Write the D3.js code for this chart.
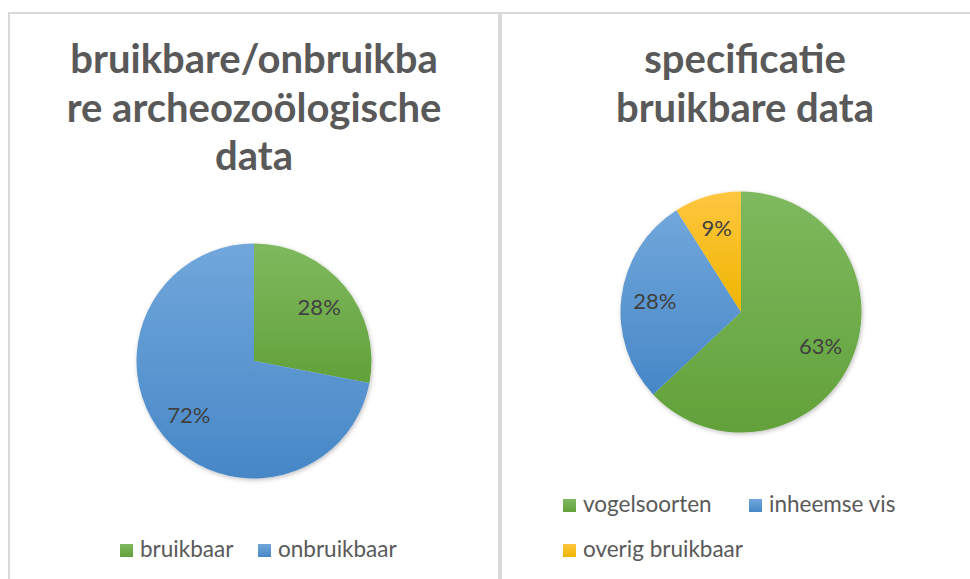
<!DOCTYPE html>
<meta charset="utf-8">
<script src="https://d3js.org/d3.v7.min.js"></script>
<style>
  body { margin: 0; background: #fff; }
  text { font-family: 'Lato', 'Open Sans', sans-serif; }
</style>
<body>
<div id="my_dataviz"></div>
<script>

// data
var leftTitle = ["bruikbare/onbruikba", "re archeozoölogische", "data"];
var leftLabels = ["bruikbaar", "onbruikbaar"];
var leftValues = [28, 72];

var rightTitle = ["specificatie", "bruikbare data"];
var rightLabels = ["vogelsoorten", "inheemse vis", "overig bruikbaar"];
var rightValues = [63, 28, 9];

// fill gradients (top -> bottom) per series colour
var palette = [
  ["#7fb95f", "#62a13a"],   // green
  ["#71a7db", "#4787c7"],   // blue
  ["#ffc641", "#efb500"]    // yellow
];

var W = 970, H = 579;

var svg = d3.select("#my_dataviz")
  .append("svg")
    .attr("width", W)
    .attr("height", H);

var defs = svg.append("defs");

palette.forEach(function(p, i) {
  var g = defs.append("linearGradient")
      .attr("id", "grad" + i)
      .attr("x1", 0).attr("y1", 0)
      .attr("x2", 0).attr("y2", 1);
  g.append("stop").attr("offset", "0%").attr("stop-color", p[0]);
  g.append("stop").attr("offset", "100%").attr("stop-color", p[1]);
});

defs.append("filter")
    .attr("id", "shadow")
    .attr("x", "-10%").attr("y", "-10%")
    .attr("width", "120%").attr("height", "120%")
  .append("feDropShadow")
    .attr("dx", 1).attr("dy", 1.5)
    .attr("stdDeviation", 2)
    .attr("flood-color", "#000")
    .attr("flood-opacity", 0.25);

// draws one chart panel
function drawPanel(opt) {
  var g = svg.append("g")
      .attr("transform", "translate(" + opt.x + "," + opt.y + ")");

  g.append("rect")
      .attr("width", opt.w)
      .attr("height", opt.h)
      .attr("fill", "#fff")
      .attr("stroke", "#d9d9d9")
      .attr("stroke-width", 2);

  // title
  g.append("text")
      .attr("text-anchor", "middle")
      .style("font-size", "40px")
      .style("font-weight", 700)
      .attr("fill", "#595959")
    .selectAll("tspan")
    .data(opt.title)
    .enter()
    .append("tspan")
      .attr("x", opt.w / 2)
      .attr("y", function(d, i) { return 60 + i * 48.5; })
      .text(function(d) { return d; });

  // pie
  var pie = d3.pie().sort(null).value(function(d) { return d.value; });
  var arc = d3.arc().innerRadius(0).outerRadius(opt.r);
  var labelArc = d3.arc().innerRadius(opt.r * 0.72).outerRadius(opt.r * 0.72);
  var total = d3.sum(opt.values);

  var data = opt.values.map(function(v, i) { return { name: opt.labels[i], value: v, idx: i }; });
  var arcs = pie(data);

  var pg = g.append("g")
      .attr("transform", "translate(" + opt.cx + "," + opt.cy + ")");

  pg.append("g")
      .attr("filter", "url(#shadow)")
    .selectAll("path")
    .data(arcs)
    .enter()
    .append("path")
      .attr("d", arc)
      .attr("fill", function(d) { return "url(#grad" + d.data.idx + ")"; });

  pg.selectAll(".lbl")
    .data(arcs)
    .enter()
    .append("text")
      .attr("class", "lbl")
      .attr("transform", function(d) { return "translate(" + labelArc.centroid(d) + ")"; })
      .attr("text-anchor", "middle")
      .attr("dy", "0.35em")
      .style("font-size", "22px")
      .attr("fill", "#404040")
      .text(function(d) { return d3.format(".0%")(d.data.value / total); });

  // legend
  var lg = g.selectAll(".leg")
    .data(data)
    .enter()
    .append("g")
      .attr("transform", function(d, i) {
        var p = opt.legendPos[i];
        return "translate(" + p[0] + "," + p[1] + ")";
      });

  lg.append("rect")
      .attr("x", 0).attr("y", -13)
      .attr("width", 13).attr("height", 13)
      .attr("fill", function(d) { return "url(#grad" + d.idx + ")"; });

  lg.append("text")
      .attr("x", 20)
      .attr("y", 0)
      .style("font-size", "22.5px")
      .attr("fill", "#595959")
      .text(function(d) { return d.name; });
}

drawPanel({
  x: 9, y: 13, w: 490, h: 600,
  title: leftTitle,
  labels: leftLabels, values: leftValues,
  cx: 245, cy: 348, r: 117.5,
  legendPos: [[111, 544], [249, 544]]
});

drawPanel({
  x: 501, y: 13, w: 488, h: 600,
  title: rightTitle,
  labels: rightLabels, values: rightValues,
  cx: 240, cy: 299, r: 120.5,
  legendPos: [[62, 499], [248, 499], [62, 544]]
});

</script>
</body>
